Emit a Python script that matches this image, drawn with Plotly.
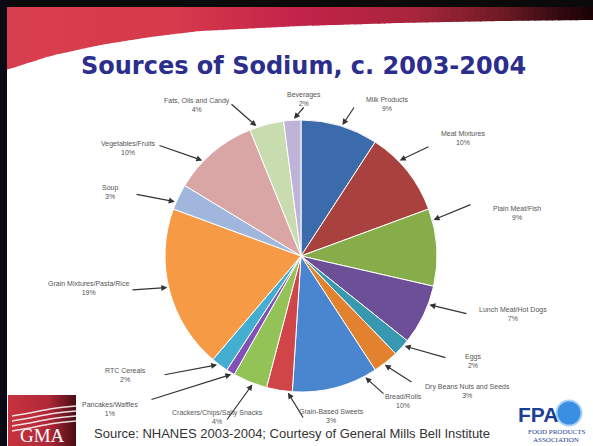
import math
import numpy as np
import plotly.graph_objects as go

# ---------------- data ----------------
labels = ["Milk Products", "Meat Mixtures", "Plain Meat/Fish", "Lunch Meat/Hot Dogs",
          "Eggs", "Dry Beans Nuts and Seeds", "Bread/Rolls", "Grain-Based Sweets",
          "Crackers/Chips/Salty Snacks", "Pancakes/Waffles", "RTC Cereals",
          "Grain Mixtures/Pasta/Rice", "Soup", "Vegetables/Fruits",
          "Fats, Oils and Candy", "Beverages"]
values = [9, 10, 9, 7, 2, 3, 10, 3, 4, 1, 2, 19, 3, 10, 4, 2]
pct_text = ["9%", "10%", "9%", "7%", "2%", "3%", "10%", "3%", "4%", "1%", "2%",
            "19%", "3%", "10%", "4%", "2%"]

# ---------------- styling / layout ----------------
colors = ["#3B6BAB", "#A9423E", "#87AD4A", "#6C4F97", "#3898AF", "#E2822F",
          "#4A86CF", "#CF4548", "#93C256", "#8151B8", "#44AED0", "#F79A46",
          "#A0B6DC", "#DAA5A5", "#C8DCAF", "#C0B3D8"]

W, H = 593, 446
CX, CY, R = 301, 256, 136  # pie centre / radius in pixels

# label text centres (pixels) and arrow tail points (pixels)
label_pos = [(387, 104), (463, 138), (517, 213), (513, 314), (473, 361), (467, 391),
             (403, 401), (332, 416), (217, 417), (110, 409), (125, 375), (88, 288),
             (110, 192), (128, 148), (197, 105), (304, 99)]
tail_pos = [(355, 106), (430, 146), (472, 204), (468, 314), (447, 358), (413, 383),
            (385, 395), (304, 419), (226, 421), (150, 400), (163, 375), (131, 290),
            (135, 194), (158, 145), (230, 103), (305, 106)]
# where inside each slice (fraction of its angular span) the arrow points
point_frac = [0.53, 0.35, 0.15, 0.31, 0.33, 0.59, 0.14, 0.16, 0.41, 0.3, 0.62,
              0.52, 0.28, 0.35, 0.21, 0.6]


def px(x):
    return x / W


def py(y):
    return 1 - y / H


def hex2rgb(h):
    h = h.lstrip("#")
    return [int(h[i:i + 2], 16) for i in (0, 2, 4)]


fig = go.Figure()

# ---- banner at the top: vertical strips with interpolated colours ----
curve_x = [0, 50, 100, 150, 200, 300, 400, 500, 593]
curve_y = [72, 56, 45, 37, 31, 26, 23, 21, 20]
grad_pos = [0, 0.3, 0.5, 0.7, 0.85, 0.95, 1.0]
grad_col = ["#D9404F", "#D63A4B", "#C4234A", "#A8263D", "#6E1A24", "#300810", "#1A0305"]
grad_rgb = np.array([hex2rgb(c) for c in grad_col], dtype=float)
shapes = []
step = 6
for x0 in range(0, W, step):
    x1 = min(x0 + step + 1, W)
    xm = (x0 + x1) / 2 / W
    rgb = [int(np.interp(xm, grad_pos, grad_rgb[:, k])) for k in range(3)]
    y0b = float(np.interp(x0, curve_x, curve_y))
    y1b = float(np.interp(x1, curve_x, curve_y))
    path = (f"M {px(x0)} {py(7)} L {px(x1)} {py(7)} L {px(x1)} {py(y1b)} "
            f"L {px(x0)} {py(y0b)} Z")
    shapes.append(dict(type="path", xref="paper", yref="paper", path=path,
                       fillcolor=f"rgb({rgb[0]},{rgb[1]},{rgb[2]})",
                       line=dict(width=0), layer="below"))

# GMA logo block
fig.add_trace(go.Scatter(
    x=[8, 76, 76, 8], y=[395, 395, 446, 446], fill="toself", mode="lines",
    line=dict(width=0),
    fillgradient=dict(type="horizontal", start=8, stop=76,
                      colorscale=[[0, "#C8333F"], [0.6, "#B02838"], [1, "#4A0C14"]]),
    hoverinfo="skip", showlegend=False))
for k in range(4):
    y0 = 412 + k * 5
    fig.add_trace(go.Scatter(
        x=[12, 30, 50, 76], y=[y0 + 4, y0 + 1, y0 - 3, y0 - 6], mode="lines",
        line=dict(color="rgba(255,255,255,0.85)", width=1.6, shape="spline"),
        hoverinfo="skip", showlegend=False))

# FPA globe
fig.add_trace(go.Scatter(
    x=[569], y=[413], mode="markers",
    marker=dict(size=25, color="#3A8FE3", line=dict(color="#A8D2F7", width=2)),
    hoverinfo="skip", showlegend=False))

# pie
fig.add_trace(go.Pie(
    labels=labels, values=values, sort=False, direction="clockwise", rotation=0,
    marker=dict(colors=colors, line=dict(color="white", width=1)),
    textinfo="none", hoverinfo="label+value", showlegend=False,
    domain=dict(x=[px(CX - R), px(CX + R)], y=[py(CY + R), py(CY - R)])))

annotations = []
total = sum(values)
cum = 0
for i, v in enumerate(values):
    ang = (cum + v * point_frac[i]) / total * 2 * math.pi
    cum += v
    tx = CX + R * 1.01 * math.sin(ang)
    ty = CY - R * 1.01 * math.cos(ang)
    lx, ly = label_pos[i]
    sx, sy = tail_pos[i]
    annotations.append(dict(
        x=px(tx), y=py(ty), xref="paper", yref="paper", text="",
        showarrow=True, ax=sx - tx, ay=sy - ty, axref="pixel", ayref="pixel",
        arrowhead=2, arrowsize=1, arrowwidth=1.2, arrowcolor="#333333",
        standoff=0, startstandoff=0))
    annotations.append(dict(
        x=px(lx), y=py(ly), xref="paper", yref="paper",
        text=f"{labels[i]}<br>{pct_text[i]}", showarrow=False,
        font=dict(family="Liberation Sans", size=7, color="#555555"),
        align="center", xanchor="center", yanchor="middle"))

annotations.append(dict(
    x=px(303), y=py(66), xref="paper", yref="paper",
    text="<b>Sources of Sodium, c. 2003-2004</b>", showarrow=False,
    font=dict(family="DejaVu Sans", size=24, color="#2B2E8C"),
    xanchor="center", yanchor="middle"))
annotations.append(dict(
    x=px(92), y=py(433), xref="paper", yref="paper",
    text="Source: NHANES 2003-2004; Courtesy of General Mills Bell Institute",
    showarrow=False, font=dict(family="Liberation Sans", size=13, color="#333333"),
    xanchor="left", yanchor="middle"))
annotations.append(dict(
    x=px(42), y=py(435), xref="paper", yref="paper", text="GMA", showarrow=False,
    font=dict(family="Liberation Serif", size=19, color="white"),
    xanchor="center", yanchor="middle"))
annotations.append(dict(
    x=px(538), y=py(414), xref="paper", yref="paper", text="<b>FPA</b>",
    showarrow=False, font=dict(family="Liberation Sans", size=21, color="#1B3F94"),
    xanchor="center", yanchor="middle"))
annotations.append(dict(
    x=px(556), y=py(432), xref="paper", yref="paper", text="FOOD PRODUCTS",
    showarrow=False, font=dict(family="Liberation Sans Narrow", size=7, color="#1B3F94"),
    xanchor="center", yanchor="middle"))
annotations.append(dict(
    x=px(556), y=py(440), xref="paper", yref="paper", text="ASSOCIATION",
    showarrow=False, font=dict(family="Liberation Sans Narrow", size=7, color="#1B3F94"),
    xanchor="center", yanchor="middle"))

shapes += [
    dict(type="rect", xref="paper", yref="paper", x0=0, x1=1, y0=py(7), y1=1,
         fillcolor="#0A0A0A", line=dict(width=0), layer="above"),
    dict(type="rect", xref="paper", yref="paper", x0=0, x1=px(7), y0=0, y1=1,
         fillcolor="#0A0A14", line=dict(width=0), layer="above"),
]

fig.update_layout(
    width=W, height=H, margin=dict(l=0, r=0, t=0, b=0),
    paper_bgcolor="white", plot_bgcolor="rgba(0,0,0,0)",
    xaxis=dict(range=[0, W], visible=False, fixedrange=True, domain=[0, 1]),
    yaxis=dict(range=[H, 0], visible=False, fixedrange=True, domain=[0, 1]),
    annotations=annotations, shapes=shapes, showlegend=False)

fig.write_html("out.html")
